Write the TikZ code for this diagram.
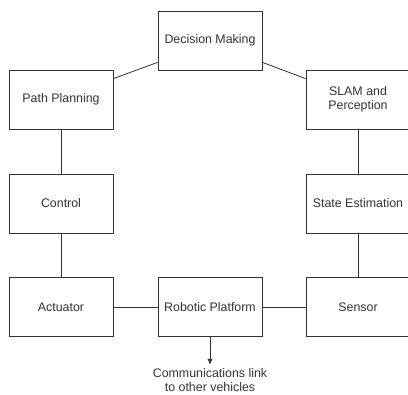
\documentclass[tikz,border=0pt]{standalone}
\usepackage{fontspec}
\setmainfont{Liberation Sans}
\usepackage{xcolor}
\usepackage{tikz}
\usetikzlibrary{positioning,arrows.meta}
\tikzset{
  modulo/.style={rectangle, draw=black!80, line width=0.8pt, fill=white, text=black!80,
    minimum width=104pt, minimum height=59pt, align=center,
    font=\fontsize{12.4}{14}\selectfont},
  ligacao/.style={draw=black!80, line width=0.8pt},
  seta/.style={-{Latex[length=6pt,width=5pt]}, draw=black!80, line width=0.8pt}
}
\begin{document}
\begin{tikzpicture}[x=1pt,y=1pt]
\useasboundingbox (0,0) rectangle (408,395);
\node[modulo] (dm) at (210,354.5) {Decision Making};
\node[modulo] (pp) at (61,295.5) {Path Planning};
\node[modulo] (slam) at (358,295.5) {SLAM and\\Perception};
\node[modulo] (ctl) at (61,191.5) {Control};
\node[modulo] (est) at (358,191.5) {State Estimation};
\node[modulo] (act) at (61,88) {Actuator};
\node[modulo] (rp) at (210,88) {Robotic Platform};
\node[modulo] (sen) at (358,88) {Sensor};
\node[text=black!80, align=center, font=\fontsize{12.4}{14}\selectfont] (com) at (210,14.5)
  {Communications link\\to other vehicles};
\coordinate (cfim) at (210,30);
\draw[ligacao] ([yshift=8pt]dm.south west) -- ([yshift=-9pt]pp.north east);
\draw[ligacao] ([yshift=8pt]dm.south east) -- ([yshift=-9pt]slam.north west);
\draw[ligacao] (pp) -- (ctl); \draw[ligacao] (ctl) -- (act);
\draw[ligacao] (slam) -- (est); \draw[ligacao] (est) -- (sen);
\draw[ligacao] (act) -- (rp); \draw[ligacao] (rp) -- (sen);
\draw[seta] (rp) -- (cfim);
\end{tikzpicture}
\end{document}
